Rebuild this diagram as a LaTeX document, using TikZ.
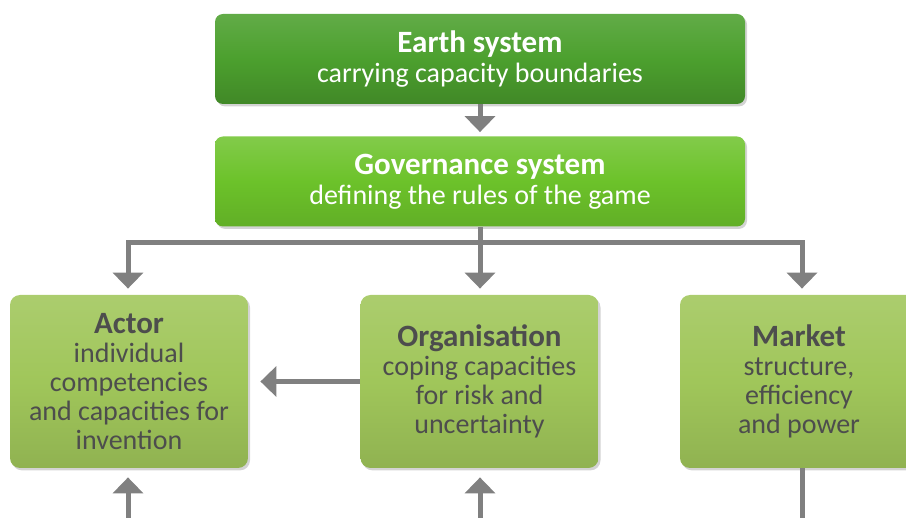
\documentclass[tikz,border=0pt]{standalone}
\usepackage{fontspec}
\setmainfont{Carlito}
\usetikzlibrary{arrows.meta,shadows}
\definecolor{earthgreen}{RGB}{76,160,46}
\definecolor{govgreen}{RGB}{108,194,42}
\definecolor{boxgreen}{RGB}{160,198,90}
\definecolor{textgray}{RGB}{77,77,77}
\definecolor{arrowgray}{RGB}{128,128,128}
\newcommand{\boxtitle}[1]{{\fontsize{15.5}{15}\selectfont\bfseries #1}}
\begin{document}
\begin{tikzpicture}[x=0.5pt,y=0.5pt,
	topbox/.style = {rounded corners=4pt, minimum width=265pt, minimum height=45pt, align=center, text=white, font=\fontsize{14}{15}\selectfont, drop shadow={shadow xshift=1pt, shadow yshift=-1.2pt, opacity=.35}},
	lowbox/.style = {rounded corners=5pt, minimum width=119pt, minimum height=86.5pt, align=center, text=textgray, top color=boxgreen!88!white, bottom color=boxgreen!90!black, middle color=boxgreen, font=\fontsize{14}{14.5}\selectfont, drop shadow={shadow xshift=1pt, shadow yshift=-1.2pt, opacity=.35}},
	flow/.style = {draw=arrowgray, line width=2.5pt, -{Triangle[width=15pt,length=8pt]}}]
		\useasboundingbox (0,0) rectangle (906,-518);
		\clip (0,0) rectangle (906,-518);
		% Kasten
		\node[topbox, top color=earthgreen!88!white, bottom color=earthgreen!85!black, middle color=earthgreen] (earth) at (480,-59) {\boxtitle{Earth system}\\carrying capacity boundaries};
		\node[topbox, top color=govgreen!85!white, bottom color=govgreen!90!black, middle color=govgreen] (gov) at (480,-181.5) {\boxtitle{Governance system}\\defining the rules of the game};
		\node[lowbox] (actor) at (129,-381.5) {\boxtitle{Actor}\\individual\\competencies\\and capacities for\\invention};
		\node[lowbox] (org) at (479.5,-381.5) {\boxtitle{Organisation}\\coping capacities\\for risk and\\uncertainty};
		\node[lowbox] (market) at (799,-381.5) {\boxtitle{Market}\\structure,\\efficiency\\and power};
		% Pfeile
		\coordinate (split) at (480,-243);
		\coordinate (actorin) at (128,-518);
		\coordinate (orgin) at (480,-518);
		\coordinate (marketout) at (802,-518);
		\draw[flow, shorten >=2pt] (earth) -- (gov);
		\draw[flow, -] (gov.south) -- (split);
		\draw[flow, shorten >=3pt] (split) -| (actor.north -| actorin);
		\draw[flow, shorten >=3pt] (split) -- (org.north -| split);
		\draw[flow, shorten >=3pt] (split) -| (market.north -| marketout);
		\draw[flow, shorten >=6pt] (org.west) -- (actor.east);
		\draw[flow, shorten >=4.5pt] (actorin) -- (actor.south -| actorin);
		\draw[flow, shorten >=4.5pt] (orgin) -- (org.south -| orgin);
		\draw[flow, -] (market.south -| marketout) -- (marketout);
\end{tikzpicture}
\end{document}
